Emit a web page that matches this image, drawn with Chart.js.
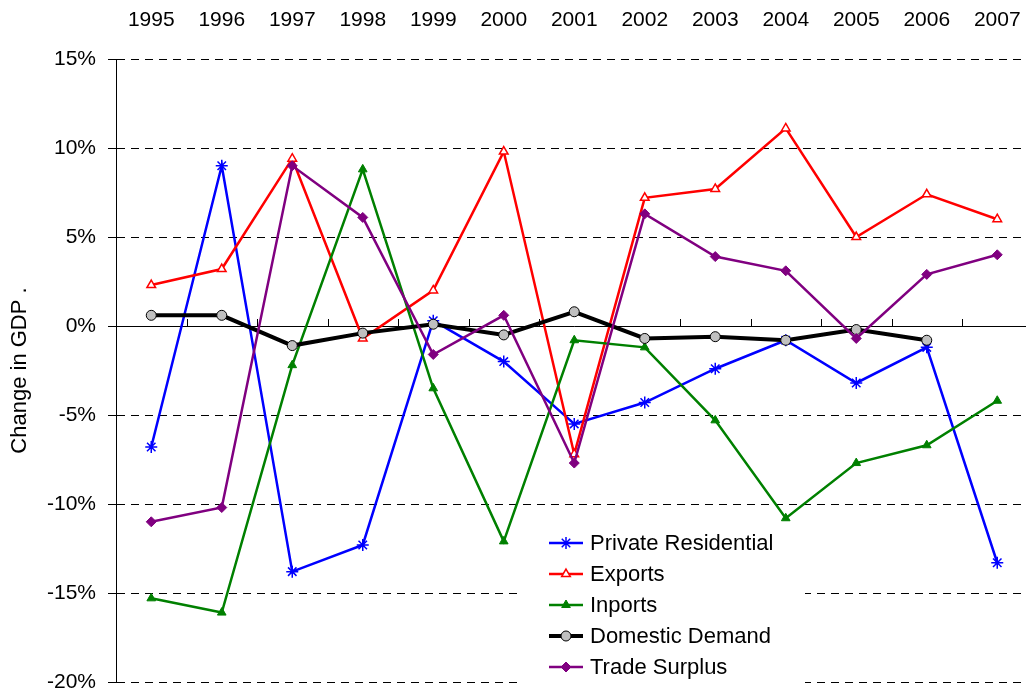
<!DOCTYPE html>
<html>
<head>
<meta charset="utf-8">
<script src="https://cdn.jsdelivr.net/npm/chart.js@4"></script>
<style>
  html, body { margin: 0; padding: 0; background: #fff; overflow: hidden; }
  #wrap { width: 1040px; height: 694px; }
</style>
</head>
<body>
<div id="wrap"><canvas id="gdpChart" width="1040" height="694"></canvas></div>
<script>
// Data (percent change in GDP)
const years = ['1995', '1996', '1997', '1998', '1999', '2000', '2001', '2002', '2003', '2004', '2005', '2006', '2007'];
const privateResidential = [-6.8, 9.0, -13.8, -12.3, 0.3, -2.0, -5.5, -4.3, -2.4, -0.8, -3.2, -1.2, -13.3];
const exportsGdp = [2.3, 3.2, 9.4, -0.7, 2.0, 9.8, -7.2, 7.2, 7.7, 11.1, 5.0, 7.4, 6.0];
const inports = [-15.3, -16.1, -2.2, 8.8, -3.5, -12.1, -0.8, -1.2, -5.3, -10.8, -7.7, -6.7, -4.2];
const domesticDemand = [0.6, 0.6, -1.1, -0.4, 0.1, -0.5, 0.8, -0.7, -0.6, -0.8, -0.2, -0.8, null];
const tradeSurplus = [-11.0, -10.2, 9.0, 6.1, -1.6, 0.6, -7.7, 6.3, 3.9, 3.1, -0.7, 2.9, 4.0];

const FONT = "'Liberation Sans', Arial, sans-serif";

// zero line ticks between categories + legend box
const extras = {
    id: 'extras',
    beforeDatasetsDraw(chart) {
        const { ctx, scales: { x, y } } = chart;
        const y0 = y.getPixelForValue(0);
        ctx.save();
        ctx.strokeStyle = '#000';
        ctx.lineWidth = 1;
        ctx.beginPath();
        for (let i = 1; i < years.length; i++) {
            const bx = Math.round((x.getPixelForValue(i - 1) + x.getPixelForValue(i)) / 2) + 0.5;
            ctx.moveTo(bx, y0);
            ctx.lineTo(bx, y0 - 7);
        }
        ctx.stroke();
        ctx.restore();
    },
    afterDraw(chart) {
        const { ctx, chartArea } = chart;
        const left = chartArea.left + 401;
        const top = chartArea.top + 463;
        const rowH = 31;
        ctx.save();
        ctx.fillStyle = '#fff';
        ctx.fillRect(left, top, 288, 170);
        chart.data.datasets.forEach((ds, i) => {
            const cy = top + 21 + i * rowH;
            const lx = left + 32;
            ctx.strokeStyle = ds.borderColor;
            ctx.lineWidth = ds.borderWidth;
            ctx.beginPath();
            ctx.moveTo(lx, cy);
            ctx.lineTo(lx + 34, cy);
            ctx.stroke();
            ctx.fillStyle = ds.pointBackgroundColor;
            ctx.strokeStyle = ds.pointBorderColor;
            ctx.lineWidth = ds.pointBorderWidth;
            Chart.helpers.drawPoint(ctx, {
                pointStyle: ds.pointStyle,
                radius: ds.pointRadius,
                borderWidth: ds.pointBorderWidth,
                rotation: 0
            }, lx + 17, cy);
            ctx.fillStyle = '#000';
            ctx.font = '22px ' + FONT;
            ctx.textBaseline = 'middle';
            ctx.textAlign = 'left';
            ctx.fillText(ds.label, lx + 41, cy + 1);
        });
        ctx.restore();
    }
};

const ctx = document.getElementById('gdpChart').getContext('2d');

const chart = new Chart(ctx, {
    type: 'line',
    data: {
        labels: years,
        datasets: [{
            label: 'Private Residential',
            data: privateResidential,
            borderColor: '#0000ff',
            borderWidth: 2.5,
            pointStyle: 'star',
            pointRadius: 6,
            pointBorderColor: '#0000ff',
            pointBackgroundColor: '#0000ff',
            pointBorderWidth: 1.5,
            order: 5
        }, {
            label: 'Exports',
            data: exportsGdp,
            borderColor: '#ff0000',
            borderWidth: 2.5,
            pointStyle: 'triangle',
            pointRadius: 5,
            pointBorderColor: '#ff0000',
            pointBackgroundColor: '#ffffff',
            pointBorderWidth: 1.5,
            order: 4
        }, {
            label: 'Inports',
            data: inports,
            borderColor: '#008000',
            borderWidth: 2.5,
            pointStyle: 'triangle',
            pointRadius: 5,
            pointBorderColor: '#008000',
            pointBackgroundColor: '#008000',
            pointBorderWidth: 1,
            order: 3
        }, {
            label: 'Domestic Demand',
            data: domesticDemand,
            borderColor: '#000000',
            borderWidth: 4,
            pointStyle: 'circle',
            pointRadius: 5,
            pointBorderColor: '#000000',
            pointBackgroundColor: '#c0c0c0',
            pointBorderWidth: 1,
            order: 2
        }, {
            label: 'Trade Surplus',
            data: tradeSurplus,
            borderColor: '#800080',
            borderWidth: 2.5,
            pointStyle: 'rectRot',
            pointRadius: 5,
            pointBorderColor: '#800080',
            pointBackgroundColor: '#800080',
            pointBorderWidth: 1,
            order: 1
        }]
    },
    options: {
        responsive: false,
        animation: false,
        layout: { padding: { top: 0, right: 6, left: 0, bottom: 0 } },
        elements: { line: { tension: 0 } },
        plugins: {
            legend: { display: false },
            tooltip: { enabled: false }
        },
        scales: {
            x: {
                position: 'top',
                offset: true,
                afterFit(scale) {
                    scale.height = 59;
                    scale.paddingLeft = 0;
                    scale.paddingRight = 0;
                },
                grid: { display: false, drawTicks: false },
                border: { display: false },
                ticks: {
                    color: '#000',
                    font: { family: FONT, size: 21 },
                    padding: 26,
                    maxRotation: 0,
                    autoSkip: false
                }
            },
            y: {
                min: -20,
                max: 15,
                afterFit(scale) {
                    scale.width = 116;
                    scale.paddingTop = 0;
                    scale.paddingBottom = 12;
                },
                grid: {
                    color: '#000',
                    lineWidth: 1,
                    tickLength: 8,
                    tickColor: '#000'
                },
                border: {
                    display: true,
                    color: '#000',
                    width: 1,
                    dash: (c) => (c.tick && c.tick.value === 0 ? [] : [8, 6])
                },
                ticks: {
                    stepSize: 5,
                    color: '#000',
                    padding: 12,
                    font: { family: FONT, size: 21 },
                    callback: (v) => v + '%'
                },
                title: {
                    display: true,
                    text: 'Change in GDP .',
                    color: '#000',
                    font: { family: FONT, size: 22 },
                    padding: { top: 7, bottom: 0 }
                }
            }
        }
    },
    plugins: [extras]
});
</script>
</body>
</html>
